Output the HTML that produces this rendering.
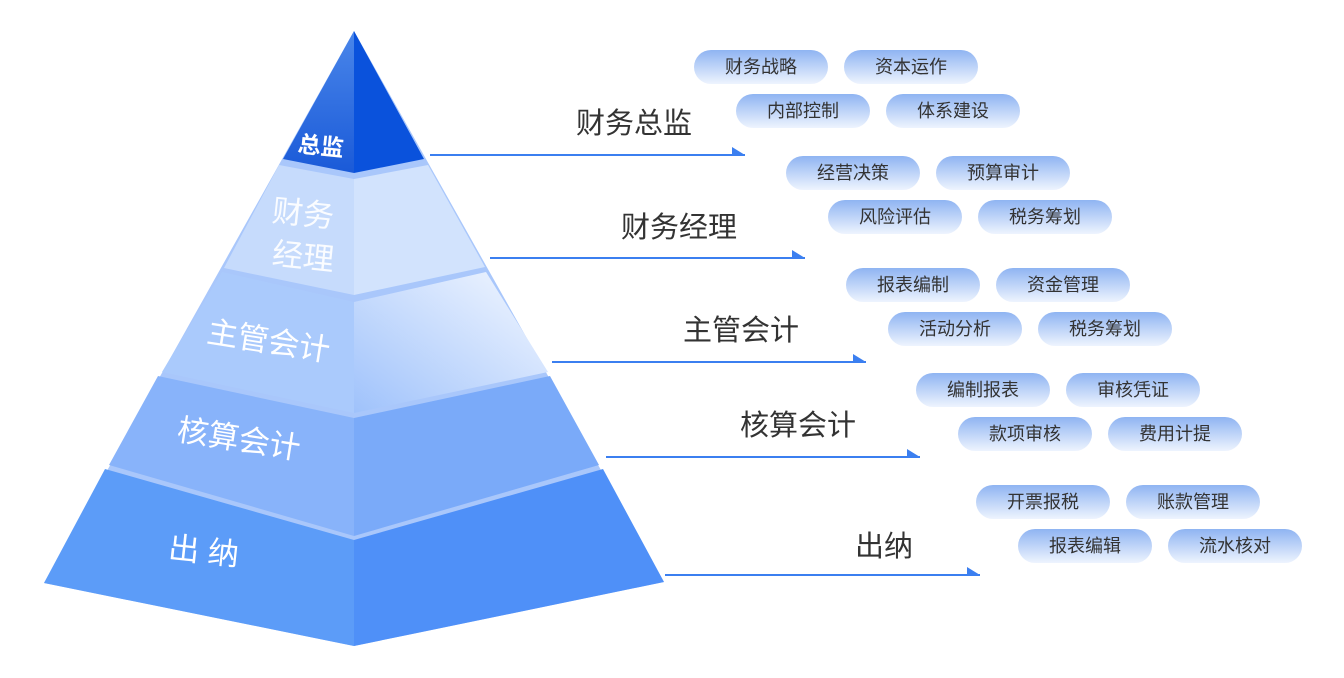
<!DOCTYPE html>
<html><head><meta charset="utf-8"><style>
body{margin:0;width:1344px;height:678px;background:#fff;overflow:hidden;font-family:"Liberation Sans","Noto Sans CJK SC",sans-serif;position:relative}
.p{position:absolute;width:134px;height:34px;border-radius:17px;background:linear-gradient(#8fb4f2,#eef4fe);color:#333;font-size:18px;line-height:34px;text-align:center}
.l{position:absolute;color:#333;font-size:29px;line-height:32px}
</style></head><body>
<svg width="1344" height="678" style="position:absolute;left:0;top:0">
<defs>
<linearGradient id="g3" x1="0" y1="1" x2="1" y2="0"><stop offset="0" stop-color="#9fc2fb"/><stop offset="1" stop-color="#f4f8ff"/></linearGradient>
<linearGradient id="g1" x1="0" y1="0" x2="0" y2="1"><stop offset="0" stop-color="#4a86ea"/><stop offset="1" stop-color="#1a5ad8"/></linearGradient>
</defs>
<polygon points="354,31 664,582 354,646 44,583" fill="#a9c7fb"/>
<!-- layer5 -->
<polygon points="105,469 354,540 354,646 44,583" fill="#5c9cf8"/>
<polygon points="354,540 603,469 664,582 354,646" fill="#4f90f8"/>
<!-- layer4 -->
<polygon points="158,376 354,418 354,536 109,465" fill="#88b3fa"/>
<polygon points="354,418 550,376 599,465 354,536" fill="#7aaaf9"/>
<!-- layer3 -->
<polygon points="222,272 354,302 354,413 162,372" fill="#aacafc"/>
<polygon points="354,302 486,272 548,372 354,413" fill="url(#g3)"/>
<!-- layer2 -->
<polygon points="279,165 354,179 354,295 224,268" fill="#c6dbfc"/>
<polygon points="354,179 428,165 485,267 354,295" fill="#d2e3fd"/>
<!-- top -->
<polygon points="354,31 354,173 283,159" fill="url(#g1)"/>
<polygon points="354,31 424,159 354,173" fill="#0a52dc"/>
<g fill="#fff">
<text x="298" y="154" font-size="23" font-weight="bold" transform="rotate(6 320 145)">总监</text>
<text x="272" y="224" font-size="31" fill-opacity=".9" transform="rotate(6 300 215)">财务</text>
<text x="272" y="267" font-size="31" fill-opacity=".9" transform="rotate(6 300 258)">经理</text>
<text x="206" y="352" font-size="31" transform="rotate(9 270 345)">主管会计</text>
<text x="176" y="450" font-size="31" transform="rotate(9 240 445)">核算会计</text>
<text x="168" y="562" font-size="31" transform="rotate(6 205 555)">出 纳</text>
</g>
<g stroke="#3b7ff0" stroke-width="2" fill="#3b7ff0">
<line x1="430" y1="155" x2="745" y2="155"/><polygon points="732,147 745,155 732,155" stroke="none"/>
<line x1="490" y1="258" x2="805" y2="258"/><polygon points="792,250 805,258 792,258" stroke="none"/>
<line x1="552" y1="362" x2="866" y2="362"/><polygon points="853,354 866,362 853,362" stroke="none"/>
<line x1="606" y1="457" x2="920" y2="457"/><polygon points="907,449 920,457 907,457" stroke="none"/>
<line x1="665" y1="575" x2="980" y2="575"/><polygon points="967,567 980,575 967,575" stroke="none"/>
</g>
</svg>
<div class="l" style="left:576px;top:108px">财务总监</div>
<div class="l" style="left:621px;top:212px">财务经理</div>
<div class="l" style="left:683px;top:315px">主管会计</div>
<div class="l" style="left:740px;top:410px">核算会计</div>
<div class="l" style="left:855px;top:531px">出纳</div>

<div class="p" style="left:694px;top:50px">财务战略</div><div class="p" style="left:844px;top:50px">资本运作</div>
<div class="p" style="left:736px;top:94px">内部控制</div><div class="p" style="left:886px;top:94px">体系建设</div>
<div class="p" style="left:786px;top:156px">经营决策</div><div class="p" style="left:936px;top:156px">预算审计</div>
<div class="p" style="left:828px;top:200px">风险评估</div><div class="p" style="left:978px;top:200px">税务筹划</div>
<div class="p" style="left:846px;top:268px">报表编制</div><div class="p" style="left:996px;top:268px">资金管理</div>
<div class="p" style="left:888px;top:312px">活动分析</div><div class="p" style="left:1038px;top:312px">税务筹划</div>
<div class="p" style="left:916px;top:373px">编制报表</div><div class="p" style="left:1066px;top:373px">审核凭证</div>
<div class="p" style="left:958px;top:417px">款项审核</div><div class="p" style="left:1108px;top:417px">费用计提</div>
<div class="p" style="left:976px;top:485px">开票报税</div><div class="p" style="left:1126px;top:485px">账款管理</div>
<div class="p" style="left:1018px;top:529px">报表编辑</div><div class="p" style="left:1168px;top:529px">流水核对</div>
</body></html>
